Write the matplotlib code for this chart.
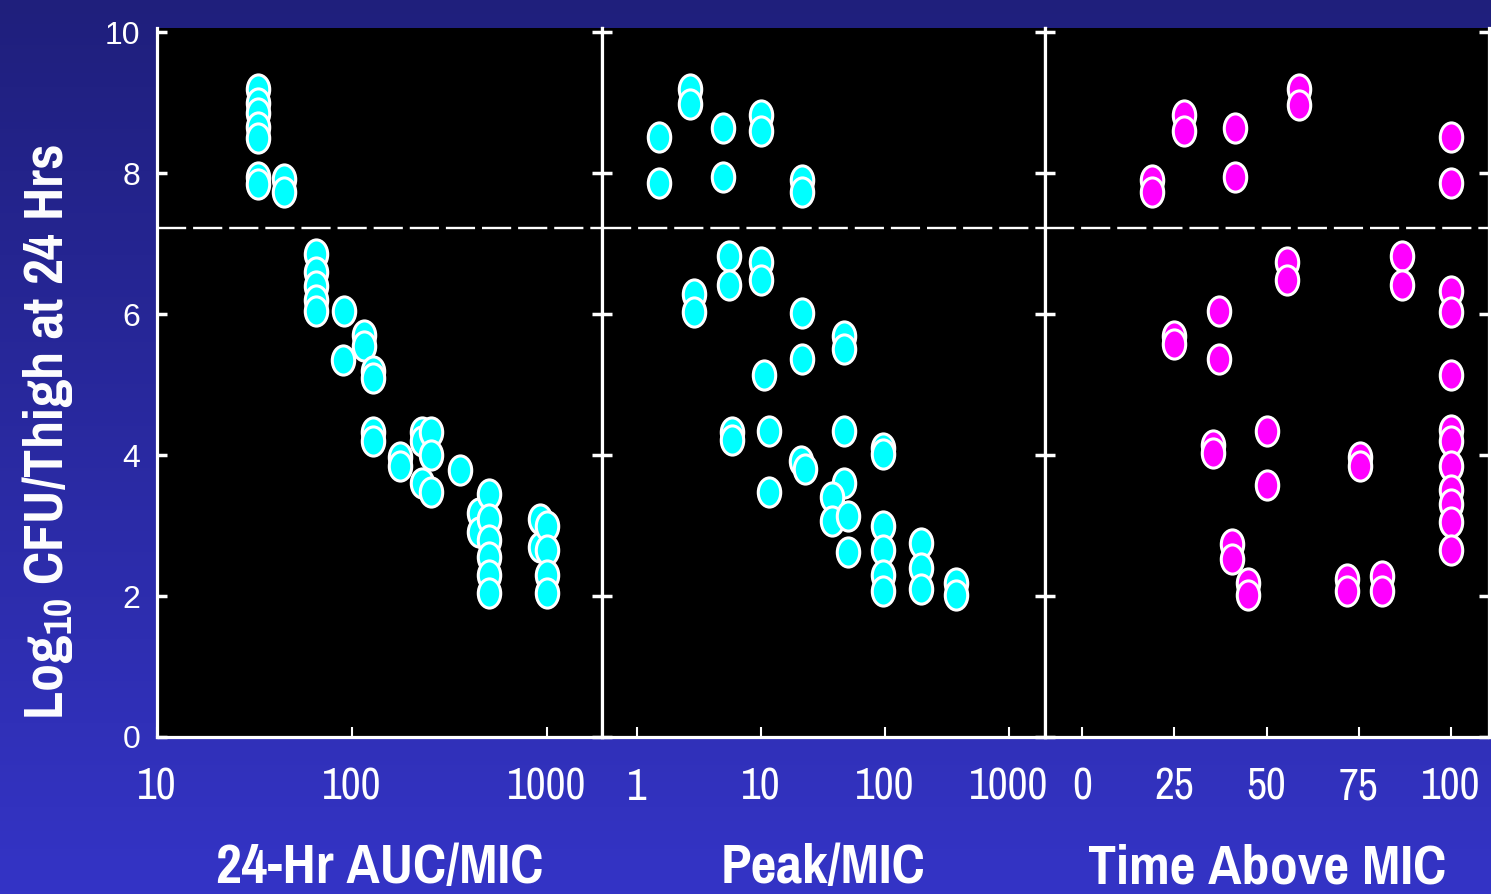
import numpy as np
import matplotlib
matplotlib.use("Agg")
import matplotlib.pyplot as plt
from matplotlib.path import Path
from matplotlib.transforms import Affine2D
from matplotlib.ticker import FixedLocator, FixedFormatter, NullLocator

# ---- data ----
auc_x = [447, 447, 920, 920,
         33, 33, 33, 33, 33, 33, 33, 45, 45,
         65, 65, 65, 65, 65, 91, 115, 115, 90, 128, 128, 128, 128,
         176, 176, 228, 228, 254, 254, 228, 254, 357,
         502, 502, 502, 502, 502, 502, 1000, 1000, 1000, 1000]
auc_y = [3.18, 2.91, 3.1, 2.7,
         9.2, 9.0, 8.85, 8.65, 8.5, 7.95, 7.85, 7.92, 7.73,
         6.85, 6.6, 6.4, 6.2, 6.05, 6.05, 5.7, 5.55, 5.35, 5.2, 5.1, 4.33, 4.2,
         3.97, 3.84, 4.33, 4.2, 4.33, 4.0, 3.6, 3.47, 3.79,
         3.45, 3.1, 2.8, 2.55, 2.3, 2.05, 3.0, 2.65, 2.3, 2.05]

peak_x = [2.7, 2.7, 1.5, 1.5, 4.9, 4.9, 10, 10, 21.6, 21.6,
          5.5, 5.5, 10, 10, 2.87, 2.87, 21.6, 46.9, 46.9, 21.6, 10.6,
          5.8, 5.8, 11.6, 46.9, 21, 22.6, 96, 96, 11.6, 46.9,
          37.4, 37.4, 49.9, 49.9, 96, 96, 96, 96, 195, 195, 195, 376, 376]
peak_y = [9.19, 8.98, 8.52, 7.86, 8.64, 7.94, 8.83, 8.6, 7.91, 7.74,
          6.83, 6.42, 6.74, 6.48, 6.29, 6.03, 6.02, 5.69, 5.5, 5.36, 5.13,
          4.33, 4.21, 4.34, 4.34, 3.92, 3.8, 4.1, 4.02, 3.47, 3.6,
          3.41, 3.06, 3.13, 2.62, 3.0, 2.65, 2.3, 2.07, 2.75, 2.4, 2.1, 2.19, 2.02]

tam_x = [18.9, 18.9, 27.7, 27.7, 41.5, 41.5, 58.9, 58.9, 100, 100,
         55.5, 55.5, 86.6, 86.6, 100, 100, 37.1, 24.9, 24.9, 37.1, 100,
         100, 100, 100, 100, 100, 100, 100, 35.4, 35.4, 50.2, 50.2,
         75.3, 75.3, 40.6, 40.6, 44.9, 44.9, 71.9, 71.9, 81.4, 81.4]
tam_y = [7.91, 7.74, 8.83, 8.6, 8.64, 7.94, 9.19, 8.97, 8.52, 7.86,
         6.74, 6.48, 6.83, 6.42, 6.33, 6.03, 6.04, 5.69, 5.57, 5.36, 5.13,
         4.35, 4.2, 3.85, 3.5, 3.3, 3.05, 2.65, 4.14, 4.03, 4.34, 3.57,
         3.98, 3.84, 2.74, 2.52, 2.19, 2.02, 2.24, 2.07, 2.29, 2.07]

auc_ticks = [10, 100, 1000]
peak_ticks = [1, 10, 100, 1000]
tam_ticks = [0, 25, 50, 75, 100]
y_ticks = [0, 2, 4, 6, 8, 10]
cutoff = 7.22

xlabels = ["24-Hr AUC/MIC", "Peak/MIC", "Time Above MIC"]
ylabel = "Log$_{\\mathregular{10}}$ CFU/Thigh at 24 Hrs"

# first installed narrow family wins
narrow = ["Liberation Sans Narrow", "Arial Narrow", "Pragati Narrow",
          "PT Sans Narrow", "Archivo Narrow", "Roboto Condensed",
          "IBM Plex Sans Condensed", "DejaVu Sans"]
plt.rcParams["lines.scale_dashes"] = False

W, H = 1491, 894
fig = plt.figure(figsize=(W / 100, H / 100), dpi=100)

# background gradient
bg = fig.add_axes([0, 0, 1, 1], zorder=-10)
top = np.array([0x1f, 0x1f, 0x7c]) / 255
bot = np.array([0x34, 0x34, 0xc6]) / 255
t = np.linspace(0, 1, 256)[:, None]
grad = top[None, :] * (1 - t) + bot[None, :] * t
bg.imshow(grad[:, None, :], aspect="auto", extent=[0, 1, 0, 1])
bg.axis("off")

# ellipse marker, taller than wide
ell = Path.unit_circle().transformed(Affine2D().scale(1, 1.3))

edges = [157, 602, 1045, 1489]
y0, y1 = 737, 28
panels = [
    (auc_x, auc_y, "log", (10, 10 ** 3.282), auc_ticks, "#00ffff"),
    (peak_x, peak_y, "log", (10 ** -0.282, 10 ** 3.29), peak_ticks, "#00ffff"),
    (tam_x, tam_y, "linear", (-10.03, 110.3), tam_ticks, "#ff00ff"),
]

for i, (xs, ys, scale, lim, ticks, col) in enumerate(panels):
    ax = fig.add_axes([edges[i] / W, 1 - y0 / H,
                       (edges[i + 1] - edges[i]) / W, (y0 - y1) / H])
    ax.set_facecolor("black")
    ax.set_xscale(scale)
    ax.set_xlim(*lim)
    ax.set_ylim(0, 10.06)
    ax.axhline(cutoff, color="white", lw=1.7, dashes=(21, 5), zorder=1)
    ax.scatter(xs, ys, s=21 ** 2, marker=ell, facecolor=col,
               edgecolor="white", linewidth=2.2, zorder=3, clip_on=False)

    for side in ["left", "right", "bottom"]:
        ax.spines[side].set_color("white")
        ax.spines[side].set_linewidth(2.3)
    ax.spines["top"].set_visible(False)

    ax.xaxis.set_major_locator(FixedLocator(ticks))
    ax.xaxis.set_major_formatter(FixedFormatter([str(v) for v in ticks]))
    ax.xaxis.set_minor_locator(NullLocator())
    ax.tick_params(axis="x", direction="in", length=7.5, width=1.5,
                   color="white", labelcolor="white", pad=22)
    for lab in ax.get_xticklabels():
        lab.set_family(narrow)
        lab.set_fontsize(34)

    ax.set_yticks(y_ticks)
    ax.tick_params(axis="y", direction="in", length=7, width=2.5,
                   color="white", labelcolor="white", left=True, right=True,
                   labelleft=(i == 0), pad=12, labelsize=23)
    for lab in ax.get_yticklabels():
        lab.set_family(["Liberation Sans", "DejaVu Sans"])

    fig.text((edges[i] + edges[i + 1]) / 2 / W, 1 - 883 / H, xlabels[i],
             color="white", fontsize=44, fontweight="bold", family=narrow,
             ha="center", va="baseline")

fig.text(63 / W, 1 - 432 / H, ylabel, color="white", fontsize=44,
         fontweight="bold", family=narrow, rotation=90,
         rotation_mode="anchor", ha="center", va="baseline")

fig.savefig("out.png", dpi=100, facecolor=fig.get_facecolor())
